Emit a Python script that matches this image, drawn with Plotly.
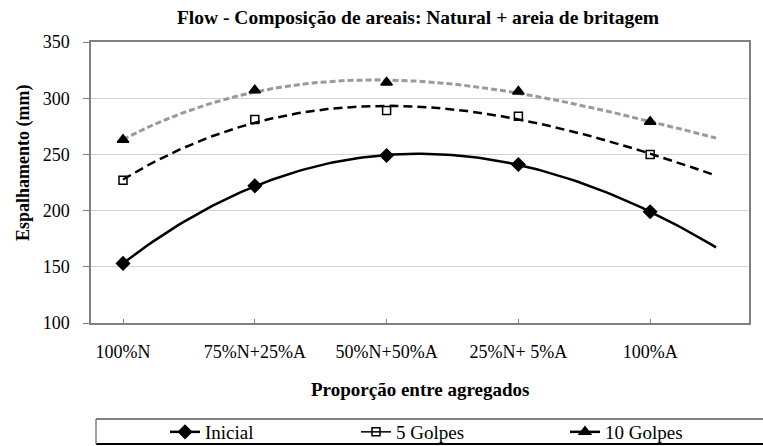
import numpy as np
import plotly.graph_objects as go

# Categories on the x axis (mix of natural sand N and crushed sand A)
categories = ["100%N", "75%N+25%A", "50%N+50%A", "25%N+ 5%A", "100%A"]
positions = [1, 2, 3, 4, 5]

# Spread (mm) measured for each mix
inicial = [153, 222, 249, 241, 199]
golpes_5 = [227, 281, 289, 284, 250]
golpes_10 = [263, 307, 314, 306, 279]

W, H = 763, 446
L, R, T, B = 91, 14, 42, 123
PW, PH = W - L - R, H - T - B


def px_x(p):
    return (p - L) / PW


def px_y(p):
    return (H - B - p) / PH


FONT = "Liberation Serif"

series = [
    dict(name="Inicial", y=inicial, symbol="diamond", size=10, fill="black",
         line=dict(color="black", width=2.5), legend="legend", lx=168, lw=2.5),
    dict(name="5 Golpes", y=golpes_5, symbol="square-open", size=8, fill="black",
         line=dict(color="black", width=2.5, dash="9px,5px"), legend="legend2", lx=359, lw=1.5),
    dict(name="10 Golpes", y=golpes_10, symbol="triangle-up", size=10, fill="black",
         line=dict(color="#9a9a9a", width=3, dash="6px,3px"), legend="legend3", lx=568, lw=2.5),
]

fig = go.Figure()
xfit = np.linspace(1, 5.5, 120)
for s in series:
    # cubic trend line through the measured points, projected half a category forward
    coef = np.polyfit(positions, s["y"], 3)
    fig.add_trace(go.Scatter(x=xfit, y=np.polyval(coef, xfit), mode="lines",
                             line=s["line"], showlegend=False, hoverinfo="skip"))
    fig.add_trace(go.Scatter(x=positions, y=s["y"], mode="markers", showlegend=False,
                             marker=dict(symbol=s["symbol"], size=s["size"], color=s["fill"],
                                         line=dict(color="black", width=1.5))))
    # legend entry
    fig.add_trace(go.Scatter(x=[None], y=[None], mode="lines+markers", name=s["name"],
                             legend=s["legend"],
                             line=dict(color="black", width=s["lw"]),
                             marker=dict(symbol=s["symbol"], size=s["size"], color=s["fill"],
                                         line=dict(color="black", width=1.5))))

fig.update_layout(
    width=W, height=H,
    margin=dict(l=L, r=R, t=T, b=B, autoexpand=False),
    paper_bgcolor="white", plot_bgcolor="white",
    font=dict(family=FONT, size=18, color="black"),
    title=dict(text="<b>Flow - Composição de areais: Natural + areia de britagem</b>",
               x=418 / W, xanchor="center", y=1 - 17 / H, yanchor="middle",
               font=dict(family=FONT, size=19.5, color="black")),
    xaxis=dict(range=[0.757, 5.75], tickmode="array", tickvals=positions, ticktext=categories,
               ticks="inside", ticklen=4, tickcolor="#808080", showgrid=False, zeroline=False,
               showline=True, linecolor="#808080", linewidth=1.5, mirror=True,
               tickfont=dict(family=FONT, size=18, color="black"), ticklabelstandoff=12),
    yaxis=dict(range=[100, 350], tickvals=[100, 150, 200, 250, 300, 350],
               ticks="outside", ticklen=6, tickcolor="#808080",
               showgrid=True, gridcolor="#d4d4d4", gridwidth=1, zeroline=False,
               showline=True, linecolor="#808080", linewidth=1.5, mirror=True,
               tickfont=dict(family=FONT, size=18, color="black"), ticklabelstandoff=10),
    annotations=[
        dict(text="<b>Espalhamento (mm)</b>", xref="paper", yref="paper",
             x=px_x(23), y=px_y(163), textangle=-90, showarrow=False,
             xanchor="center", yanchor="middle",
             font=dict(family=FONT, size=18, color="black")),
        dict(text="<b>Proporção entre agregados</b>", xref="paper", yref="paper",
             x=px_x(420), y=px_y(389), showarrow=False, xanchor="center", yanchor="middle",
             font=dict(family=FONT, size=19, color="black")),
    ],
    shapes=[
        dict(type="line", xref="paper", yref="paper", x0=px_x(96), x1=px_x(770),
             y0=px_y(419), y1=px_y(419), line=dict(color="#808080", width=2)),
        dict(type="line", xref="paper", yref="paper", x0=px_x(96), x1=px_x(770),
             y0=px_y(444), y1=px_y(444), line=dict(color="black", width=2)),
        dict(type="line", xref="paper", yref="paper", x0=px_x(96), x1=px_x(96),
             y0=px_y(419), y1=px_y(444), line=dict(color="#808080", width=1.5)),
    ],
)

# one legend per entry so each can sit at its own spot in the bottom strip
for s in series:
    fig.update_layout({
        s["legend"]: dict(
            orientation="h", xanchor="left", yanchor="middle",
            x=px_x(s["lx"] - 3), y=px_y(432),
            bgcolor="rgba(0,0,0,0)", borderwidth=0,
            font=dict(family="Liberation Serif, serif", size=19, color="black"),
        )
    })

fig.write_html("out.html")
